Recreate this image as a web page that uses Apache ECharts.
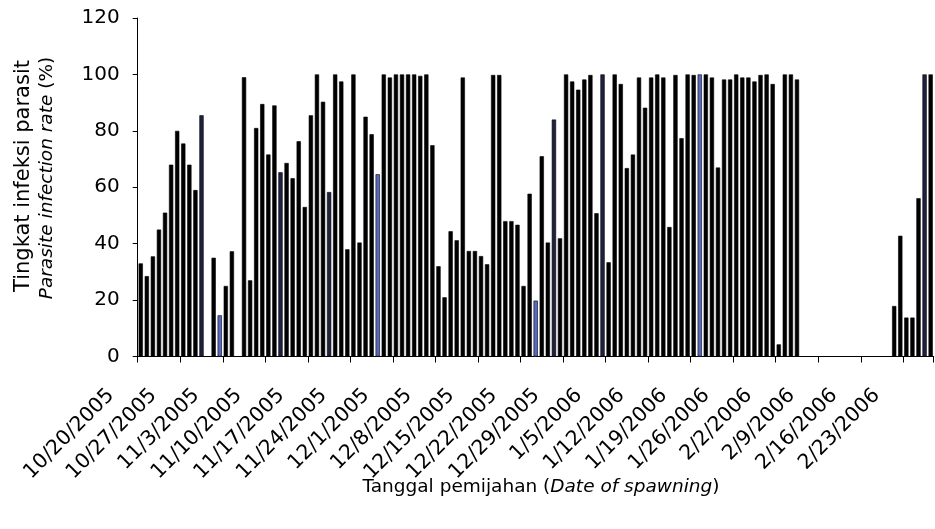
<!DOCTYPE html>
<html>
<head>
<meta charset="utf-8">
<script src="https://cdn.jsdelivr.net/npm/echarts@6/dist/echarts.min.js"></script>
<style>
html,body{margin:0;padding:0;background:#fff;}
#c{width:935px;height:529px;}
</style>
</head>
<body>
<div id="c"></div>
<script>
// Dates of spawning (daily categories)
const categories = [
 "10/20/2005","10/21/2005","10/22/2005","10/23/2005","10/24/2005","10/25/2005","10/26/2005",
 "10/27/2005","10/28/2005","10/29/2005","10/30/2005","10/31/2005","11/1/2005","11/2/2005",
 "11/3/2005","11/4/2005","11/5/2005","11/6/2005","11/7/2005","11/8/2005","11/9/2005",
 "11/10/2005","11/11/2005","11/12/2005","11/13/2005","11/14/2005","11/15/2005","11/16/2005",
 "11/17/2005","11/18/2005","11/19/2005","11/20/2005","11/21/2005","11/22/2005","11/23/2005",
 "11/24/2005","11/25/2005","11/26/2005","11/27/2005","11/28/2005","11/29/2005","11/30/2005",
 "12/1/2005","12/2/2005","12/3/2005","12/4/2005","12/5/2005","12/6/2005","12/7/2005",
 "12/8/2005","12/9/2005","12/10/2005","12/11/2005","12/12/2005","12/13/2005","12/14/2005",
 "12/15/2005","12/16/2005","12/17/2005","12/18/2005","12/19/2005","12/20/2005","12/21/2005",
 "12/22/2005","12/23/2005","12/24/2005","12/25/2005","12/26/2005","12/27/2005","12/28/2005",
 "12/29/2005","12/30/2005","12/31/2005","1/1/2006","1/2/2006","1/3/2006","1/4/2006",
 "1/5/2006","1/6/2006","1/7/2006","1/8/2006","1/9/2006","1/10/2006","1/11/2006",
 "1/12/2006","1/13/2006","1/14/2006","1/15/2006","1/16/2006","1/17/2006","1/18/2006",
 "1/19/2006","1/20/2006","1/21/2006","1/22/2006","1/23/2006","1/24/2006","1/25/2006",
 "1/26/2006","1/27/2006","1/28/2006","1/29/2006","1/30/2006","1/31/2006","2/1/2006",
 "2/2/2006","2/3/2006","2/4/2006","2/5/2006","2/6/2006","2/7/2006","2/8/2006",
 "2/9/2006","2/10/2006","2/11/2006","2/12/2006","2/13/2006","2/14/2006","2/15/2006",
 "2/16/2006","2/17/2006","2/18/2006","2/19/2006","2/20/2006","2/21/2006","2/22/2006",
 "2/23/2006","2/24/2006","2/25/2006","2/26/2006","2/27/2006"
];

// Parasite infection rate (%) per date; null = no spawning
const infectionRate = [
 33, 28.5, 35.5, 45, 51, 68, 80,
 75.5, 68, 59, 85.5, null, 35, 14.6,
 25, 37.3, null, 99, 27, 81, 89.5,
 71.6, 89, 65.3, 68.6, 63.2, 76.3, 53,
 85.5, 100, 90.3, 58.3, 100, 97.5, 38,
 100, 40.4, 85, 78.8, 64.6, 100, 98.9,
 100, 100, 100, 100, 99.5, 100, 74.9,
 32, 21, 44.4, 41.2, 98.9, 37.4, 37.4,
 35.6, 32.7, 99.8, 99.8, 48, 48, 46.7,
 25, 57.7, 19.8, 71, 40.4, 84, 41.9,
 100, 97.5, 94.6, 98.2, 99.8, 50.8, 100,
 33.4, 100, 96.6, 66.8, 71.6, 98.9, 88.2,
 98.9, 100, 98.9, 45.9, 99.8, 77.4, 100,
 99.8, 100, 100, 98.9, 67, 98.2, 98.2,
 100, 98.9, 98.9, 97.5, 99.8, 100, 96.6,
 4.3, 100, 100, 98.2, null, null, null,
 null, null, null, null, null, null, null,
 null, null, null, null, null, 17.9, 42.8,
 13.8, 13.8, 56.1, 100, 100
];

const yTicks = [0, 20, 40, 60, 80, 100, 120];

// styling: which bars are drawn in blue tones
const blueBars = [13, 39, 65, 92];
const navyBars = [10, 23, 31, 68, 76, 129];

const FONT = 'DejaVu Sans';

const seriesData = infectionRate.map((v, i) => {
  let color = '#000';
  if (blueBars.includes(i)) color = '#5a69bd';
  else if (navyBars.includes(i)) color = '#1e2240';
  return { value: v, itemStyle: { color: color } };
});

const chart = echarts.init(document.getElementById('c'), null, { renderer: 'canvas' });
chart.setOption({
  animation: false,
  backgroundColor: '#fff',
  grid: { left: 137.7, top: 18, right: 1.3, bottom: 172.5, containLabel: false, outerBoundsMode: 'none' },
  xAxis: {
    type: 'category',
    data: categories,
    boundaryGap: true,
    axisLine: { lineStyle: { color: '#000', width: 1 } },
    axisTick: { show: true, interval: (i) => i % 7 === 0, length: 6, lineStyle: { color: '#000' } },
    axisLabel: {
      interval: (i) => i % 7 === 0,
      rotate: 45,
      margin: 6,
      padding: [0, 42, 0, 0],
      color: '#000',
      fontFamily: FONT,
      fontSize: 20.5
    },
    splitLine: { show: false }
  },
  yAxis: {
    type: 'value',
    min: yTicks[0],
    max: yTicks[yTicks.length - 1],
    interval: 20,
    axisLine: { show: true, lineStyle: { color: '#000', width: 1 } },
    axisTick: { show: true, length: 5, lineStyle: { color: '#000' } },
    axisLabel: { color: '#000', fontFamily: FONT, fontSize: 20, margin: 18 },
    splitLine: { show: false }
  },
  series: [{
    type: 'bar',
    data: seriesData,
    barWidth: '70%',
    itemStyle: { borderColor: '#000', borderWidth: 0.6 }
  }],
  graphic: [
    {
      type: 'text', x: 24, y: 176, rotation: Math.PI / 2,
      style: { text: 'Tingkat infeksi parasit', fontFamily: FONT, fontSize: 21, fill: '#000', align: 'center', verticalAlign: 'middle' }
    },
    {
      type: 'text', x: 47, y: 178, rotation: Math.PI / 2,
      style: {
        text: '{i|Parasite infection rate} (%)', fontFamily: FONT, fontSize: 18.5, fill: '#000', align: 'center', verticalAlign: 'middle',
        rich: { i: { fontStyle: 'italic', fontFamily: FONT, fontSize: 18.5, fill: '#000' } }
      }
    },
    {
      type: 'text', x: 541, y: 487,
      style: {
        text: 'Tanggal pemijahan ({i|Date of spawning})', fontFamily: FONT, fontSize: 18.5, fill: '#000', align: 'center', verticalAlign: 'middle',
        rich: { i: { fontStyle: 'italic', fontFamily: FONT, fontSize: 18.5, fill: '#000' } }
      }
    }
  ]
});
</script>
</body>
</html>
